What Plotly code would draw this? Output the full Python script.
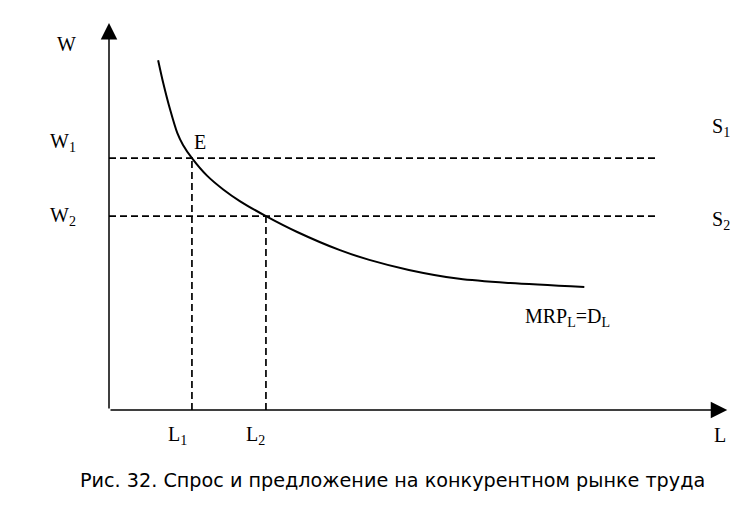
import plotly.graph_objects as go

# Кривая спроса на труд MRP_L = D_L
L_curve = [0.77, 0.85, 0.96, 1.07, 1.16, 1.30, 1.54, 1.79, 2.05, 2.46, 2.95,
           3.62, 4.08, 4.70, 5.49, 6.29, 7.45]
W_curve = [9.04, 8.45, 7.75, 7.16, 6.85, 6.51, 6.05, 5.70, 5.40, 5.01, 4.60,
           4.13, 3.88, 3.62, 3.39, 3.28, 3.18]

# Уровни ставок и занятости
W1, W2 = 6.51, 5.01
L1, L2 = 1.30, 2.46
L_supply_end = 8.59
L_axis_end, W_axis_end = 9.69, 10.0

caption = "Рис. 32. Спрос и предложение на конкурентном рынке труда"

serif = dict(family="Liberation Serif", size=20, color="black")
dash_style = dict(color="black", width=1.7, dash="7px,4px")

fig = go.Figure()

# Кривая спроса
fig.add_trace(go.Scatter(x=L_curve, y=W_curve, mode="lines",
                         line=dict(color="black", width=2, shape="spline", smoothing=0.8),
                         hoverinfo="skip"))

# Предложение S1 и S2 (горизонтальные пунктиры)
for w in [W1, W2]:
    fig.add_trace(go.Scatter(x=[0, L_supply_end], y=[w, w], mode="lines",
                             line=dash_style, hoverinfo="skip"))

# Вертикальные пунктиры к L1 и L2
for l, w in [(L1, W1), (L2, W2)]:
    fig.add_trace(go.Scatter(x=[l, l], y=[0, w], mode="lines",
                             line=dash_style, hoverinfo="skip"))

# Оси со стрелками
fig.add_annotation(x=0, y=W_axis_end, ax=0, ay=0, xref="x", yref="y", axref="x", ayref="y",
                   text="", showarrow=True, arrowhead=2, arrowsize=2.2,
                   arrowwidth=1.5, arrowcolor="black")
fig.add_annotation(x=L_axis_end, y=0, ax=0, ay=0, xref="x", yref="y", axref="x", ayref="y",
                   text="", showarrow=True, arrowhead=2, arrowsize=2.2,
                   arrowwidth=1.5, arrowcolor="black")

# Подписи
labels = [
    ("W", -0.67, 9.46),
    ("W<sub>1</sub>", -0.72, 6.90),
    ("W<sub>2</sub>", -0.72, 4.99),
    ("E", 1.43, 6.93),
    ("S<sub>1</sub>", 9.59, 7.31),
    ("S<sub>2</sub>", 9.59, 4.91),
    ("MRP<sub>L</sub>=D<sub>L</sub>", 7.19, 2.40),
    ("L<sub>1</sub>", 1.07, -0.65),
    ("L<sub>2</sub>", 2.30, -0.65),
    ("L", 9.58, -0.65),
]
for txt, x, y in labels:
    fig.add_annotation(x=x, y=y, text=txt, showarrow=False, font=serif,
                       xref="x", yref="y")

fig.add_annotation(x=4.44, y=-1.81, xref="x", yref="y",
                   text=caption, showarrow=False,
                   font=dict(family="DejaVu Sans", size=19.2, color="black"))

# Поле графика занимает всю фигуру (страница добавляет отступ 8px)
fig.update_xaxes(range=[-1.583, 10.141], visible=False)
fig.update_yaxes(range=[-2.997, 10.388], visible=False)
fig.update_layout(width=748, height=518, showlegend=False,
                  margin=dict(l=0, r=0, t=0, b=0),
                  plot_bgcolor="white", paper_bgcolor="white")

fig.write_html("out.html")
